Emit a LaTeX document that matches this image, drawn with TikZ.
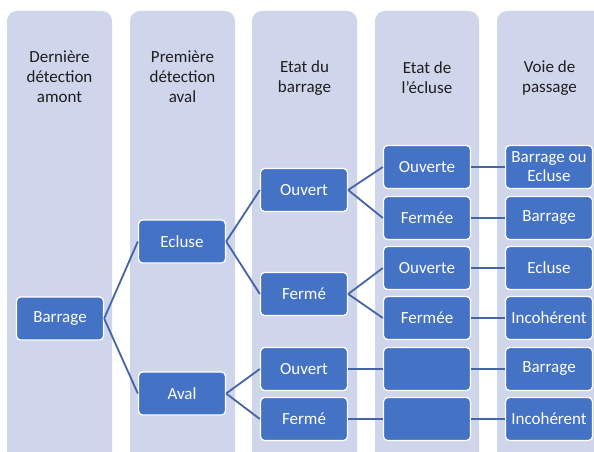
\documentclass[tikz,border=0pt]{standalone}
\usepackage{fontspec}
\setmainfont{Carlito}
\definecolor{colbg}{RGB}{207,213,234}
\definecolor{nodebg}{RGB}{68,114,196}
\definecolor{linkc}{RGB}{68,100,165}
\definecolor{headc}{RGB}{30,30,30}
\begin{document}
\begin{tikzpicture}[x=1pt,y=-1pt,
  colrect/.style={fill=colbg, rounded corners=10pt},
  header/.style={text=headc, align=center, font=\fontsize{17}{20}\selectfont},
  nbox/.style={fill=nodebg, draw=white, line width=1.3pt, rounded corners=4pt,
    minimum width=87pt, minimum height=43pt, inner sep=1pt, text=white,
    align=center, font=\fontsize{17}{19}\selectfont},
  link/.style={draw=linkc, line width=1.8pt}]
\useasboundingbox (0,0) rectangle (594,452);
\begin{scope}
\clip (0,0) rectangle (594,452);
\fill[colrect] (7,11) rectangle (112,470);
\fill[colrect] (130,11) rectangle (235,470);
\fill[colrect] (252,11) rectangle (357,470);
\fill[colrect] (375,11) rectangle (479,470);
\fill[colrect] (497,11) rectangle (606,470);
\end{scope}
% headers
\node[header] (h1) at (59.5,77) {Dernière\\détection\\amont};
\node[header] (h2) at (182.5,77) {Première\\détection\\aval};
\node[header] (h3) at (304.5,78) {Etat du\\barrage};
\node[header] (h4) at (427,78) {Etat de\\l'écluse};
\node[header] (h5) at (549.5,78) {Voie de\\passage};
% col1
\node[nbox] (barrage) at (60,318.5) {Barrage};
% col2
\node[nbox] (ecluse) at (182,241.5) {Ecluse};
\node[nbox] (aval) at (182,393.5) {Aval};
% col3
\node[nbox] (ouv1) at (304,190) {Ouvert};
\node[nbox] (fer1) at (304,294) {Fermé};
\node[nbox] (ouv2) at (304,369) {Ouvert};
\node[nbox] (fer2) at (304,419) {Fermé};
% col4
\node[nbox] (e1) at (427,167) {Ouverte};
\node[nbox] (e2) at (427,218) {Fermée};
\node[nbox] (e3) at (427,268) {Ouverte};
\node[nbox] (e4) at (427,318) {Fermée};
\node[nbox] (e5) at (427,369) {};
\node[nbox] (e6) at (427,419) {};
% col5
\node[nbox] (v1) at (549,167) {Barrage ou\\Ecluse};
\node[nbox] (v2) at (549,218) {Barrage};
\node[nbox] (v3) at (549,268) {Ecluse};
\node[nbox] (v4) at (549,318) {Incohérent};
\node[nbox] (v5) at (549,369) {Barrage};
\node[nbox] (v6) at (549,419) {Incohérent};
% links
\draw[link] (barrage.east) -- (ecluse.west);
\draw[link] (barrage.east) -- (aval.west);
\draw[link] (ecluse.east) -- (ouv1.west);
\draw[link] (ecluse.east) -- (fer1.west);
\draw[link] (aval.east) -- (ouv2.west);
\draw[link] (aval.east) -- (fer2.west);
\draw[link] (ouv1.east) -- (e1.west);
\draw[link] (ouv1.east) -- (e2.west);
\draw[link] (fer1.east) -- (e3.west);
\draw[link] (fer1.east) -- (e4.west);
\draw[link] (ouv2.east) -- (e5.west);
\draw[link] (fer2.east) -- (e6.west);
\draw[link] (e1.east) -- (v1.west);
\draw[link] (e2.east) -- (v2.west);
\draw[link] (e3.east) -- (v3.west);
\draw[link] (e4.east) -- (v4.west);
\draw[link] (e5.east) -- (v5.west);
\draw[link] (e6.east) -- (v6.west);
\end{tikzpicture}
\end{document}
